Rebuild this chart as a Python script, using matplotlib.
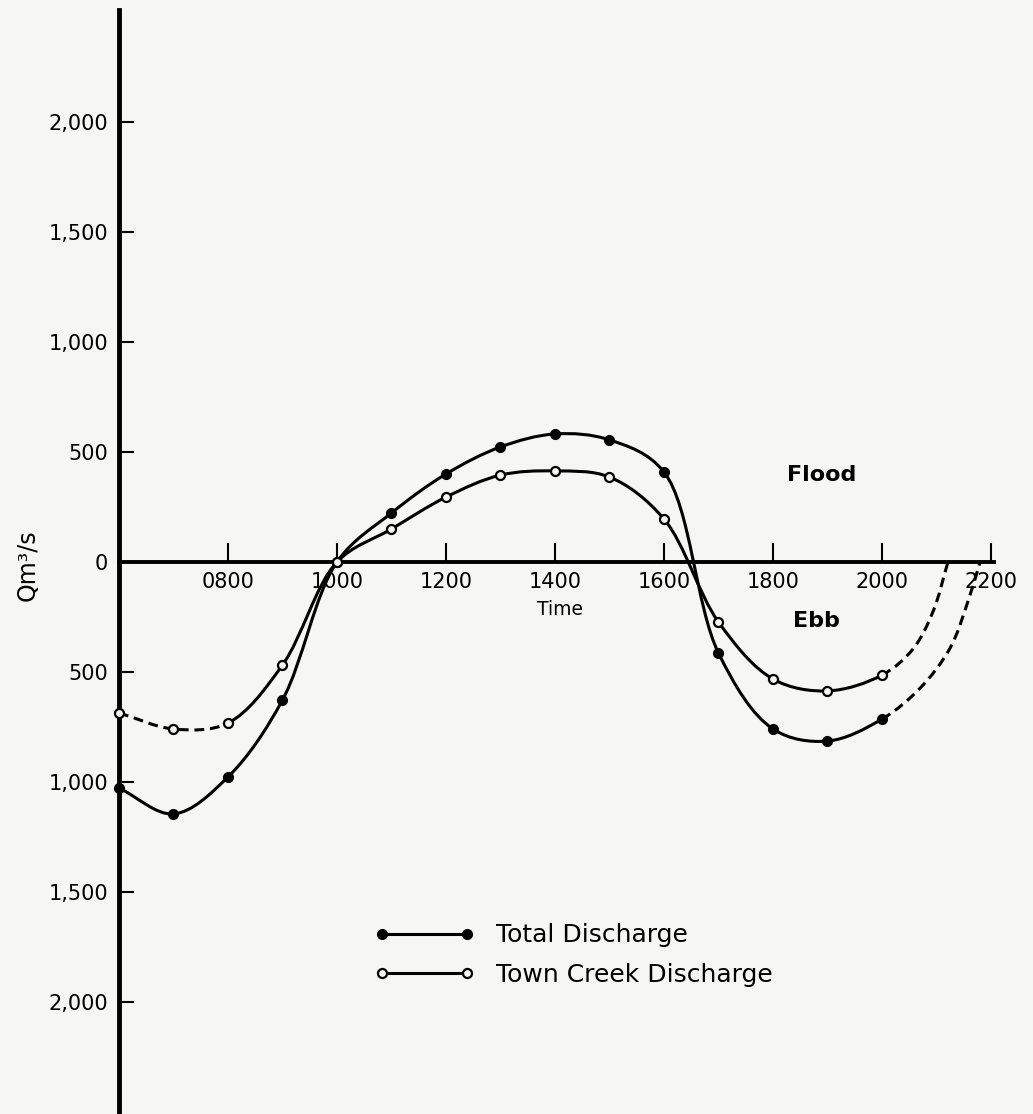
import numpy as np
import matplotlib
matplotlib.use("Agg")
import matplotlib.pyplot as plt
from matplotlib.path import Path
from matplotlib.patches import PathPatch
from matplotlib.lines import Line2D

# hourly readings, hour of day
hours = [6, 7, 8, 9, 10, 11, 12, 13, 14, 15, 16, 17, 18, 19, 20]
total_q = [-1027, -1145, -977, -627, 0, 223, 400, 523, 582, 555, 409, -414, -759, -814, -714]
town_q = [-686, -759, -732, -468, 0, 150, 295, 395, 414, 386, 195, -273, -532, -586, -514]

# dashed extrapolation after 2000
total_tail_t = [20.7, 21.25, 21.58, 21.8]
total_tail_q = [-573, -391, -177, 0]
town_tail_t = [20.57, 20.94, 21.21]
town_tail_q = [-395, -223, 0]

xticks = [8, 10, 12, 14, 16, 18, 20, 22]
xlabels = ["0800", "1000", "1200", "1400", "1600", "1800", "2000", "2200"]
yticks = [2000, 1500, 1000, 500, 0, -500, -1000, -1500, -2000]
ylabels = ["2,000", "1,500", "1,000", "500", "0", "500", "1,000", "1,500", "2,000"]

BG = "#f6f6f4"


def centripetal_segments(P, alpha=0.5):
    """ bezier control points (centripetal catmull-rom), P in display coords """
    n = len(P)
    ext = np.vstack([2 * P[0] - P[1], P, 2 * P[-1] - P[-2]])
    segs = []
    for i in range(n - 1):
        p0, p1, p2, p3 = ext[i], ext[i + 1], ext[i + 2], ext[i + 3]
        d01 = max(np.linalg.norm(p1 - p0) ** alpha, 1e-6)
        d12 = max(np.linalg.norm(p2 - p1) ** alpha, 1e-6)
        d23 = max(np.linalg.norm(p3 - p2) ** alpha, 1e-6)
        m1 = (p1 - p0) / d01 - (p2 - p0) / (d01 + d12) + (p2 - p1) / d12
        m2 = (p2 - p1) / d12 - (p3 - p1) / (d12 + d23) + (p3 - p2) / d23
        c1 = p1 + m1 * d12 / 3
        c2 = p2 - m2 * d12 / 3
        segs.append((p1, c1, c2, p2))
    return segs


def draw_curve(ax, t, q, dashed, lw=2.2):
    P = ax.transData.transform(np.column_stack([t, q]).astype(float))
    inv = ax.transData.inverted()
    segs = centripetal_segments(P)
    i = 0
    while i < len(segs):
        j = i
        while j + 1 < len(segs) and dashed[j + 1] == dashed[i]:
            j += 1
        verts = [segs[i][0]]
        codes = [Path.MOVETO]
        for k in range(i, j + 1):
            verts += [segs[k][1], segs[k][2], segs[k][3]]
            codes += [Path.CURVE4] * 3
        verts = inv.transform(np.array(verts))
        ls = (0, (3.2, 1.9)) if dashed[i] else "solid"
        patch = PathPatch(Path(verts, codes), facecolor="none", edgecolor="black",
                          lw=lw, linestyle=ls, clip_on=False, zorder=3)
        ax.add_patch(patch)
        i = j + 1


fig = plt.figure(figsize=(10.33, 11.14), dpi=100, facecolor=BG)
ax = fig.add_axes([119 / 1033, 0, 1 - 119 / 1033, 1])
ax.set_facecolor(BG)

ax.set_xlim(6, 6 + 914 / 54.5)
ax.set_ylim(-(1114 - 562) * 500 / 110, 562 * 500 / 110)

# total discharge
t_all = hours + total_tail_t
q_all = total_q + total_tail_q
dash = [False] * (len(hours) - 1) + [True] * len(total_tail_t)
draw_curve(ax, t_all, q_all, dash)

# town creek discharge
t_all = hours + town_tail_t
q_all = town_q + town_tail_q
dash = [True, True] + [False] * (len(hours) - 3) + [True] * len(town_tail_t)
draw_curve(ax, t_all, q_all, dash)

ax.plot(hours, total_q, "o", ms=7, color="black", clip_on=False, zorder=4)
ax.plot(hours, town_q, "o", ms=6.5, mfc=BG, mec="black", mew=1.6,
        clip_on=False, zorder=4)

""" axes """
for s in ["top", "right"]:
    ax.spines[s].set_visible(False)
ax.spines["left"].set_linewidth(3.5)
ax.spines["left"].set_bounds(-2600, 2509)
ax.spines["bottom"].set_position(("data", 0))
ax.spines["bottom"].set_linewidth(2.8)
ax.spines["bottom"].set_bounds(6, 22.05)

ax.set_xticks(xticks)
ax.set_xticklabels(xlabels)
ax.set_yticks(yticks)
ax.set_yticklabels(ylabels)
ax.tick_params(axis="x", direction="in", length=14, width=1.5, pad=7, labelsize=15)
ax.tick_params(axis="y", direction="in", length=11, width=1.5, pad=8, labelsize=15)

ax.text(14.1, -241, "Time", ha="center", va="baseline", fontsize=13.5)
ax.text(18.9, 368, "Flood", ha="center", va="baseline", fontsize=16, fontweight="bold")
ax.text(18.8, -295, "Ebb", ha="center", va="baseline", fontsize=16, fontweight="bold")
fig.text(28 / 1033, 1 - 565 / 1114, "Qm³/s", rotation=90, ha="center", va="center",
         fontsize=17)

""" legend """
h1 = Line2D([], [], color="black", lw=2.2, marker="o", ms=7)
h2 = Line2D([], [], color="black", lw=2.2, marker="o", ms=6.5, mfc=BG, mew=1.6)
fig.legend([h1, h2], ["Total Discharge", "Town Creek Discharge"],
           loc="center left", bbox_to_anchor=(374 / 1033, 1 - 955 / 1114),
           frameon=False, numpoints=2, handlelength=4.0, handletextpad=0.9,
           labelspacing=0.62, borderpad=0, borderaxespad=0, fontsize=18)

fig.savefig("out.png", dpi=100, facecolor=BG)
